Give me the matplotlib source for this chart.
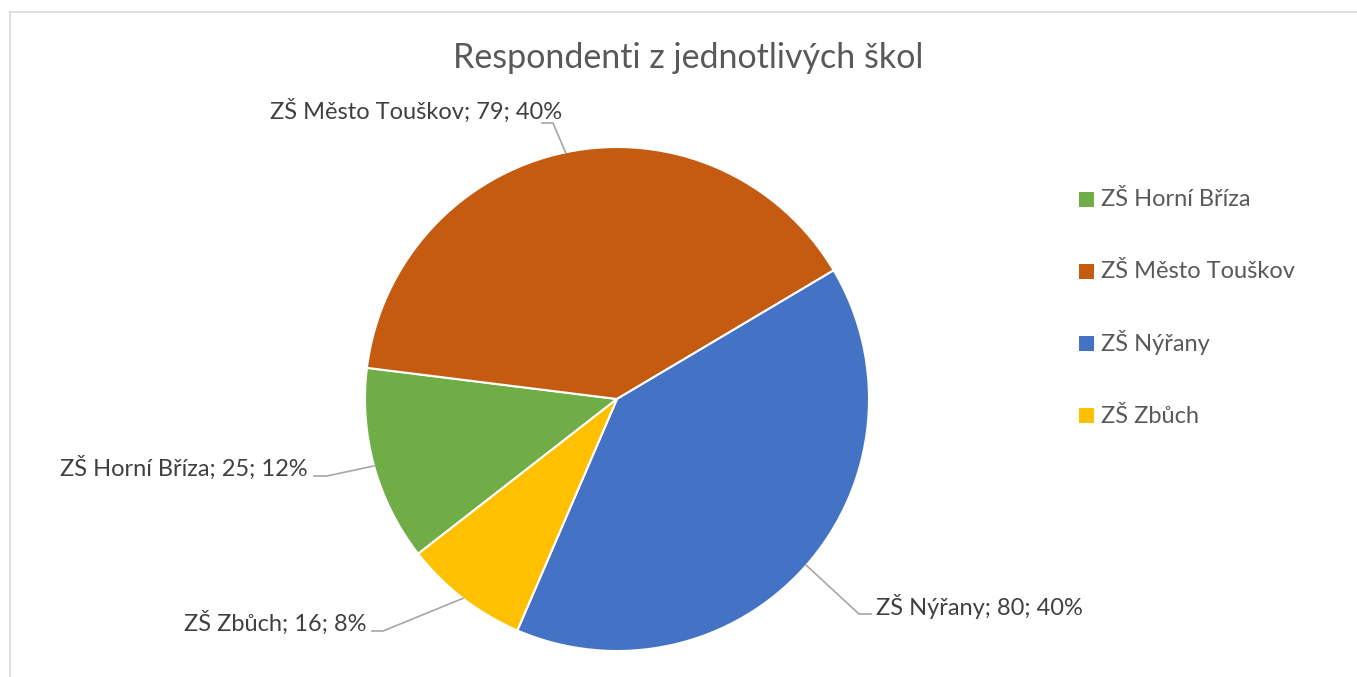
import numpy as np
import matplotlib
matplotlib.use('Agg')
import matplotlib.pyplot as plt
from matplotlib.patches import Rectangle

# data
schools = ['ZŠ Horní Bříza', 'ZŠ Město Touškov', 'ZŠ Nýřany', 'ZŠ Zbůch']
counts = [25, 79, 80, 16]
colors = ['#70AD47', '#C55A11', '#4472C4', '#FFC000']
title = 'Respondenti z jednotlivých škol'

W, H = 1357, 677
plt.rcParams['font.family'] = ['Lato', 'DejaVu Sans']

def fy(y):
    # pixel row from top -> data y
    return H - y

fig = plt.figure(figsize=(W / 100, H / 100), dpi=100)
ax = fig.add_axes([0, 0, 1, 1])

total = sum(counts)
wedges, _ = ax.pie(counts, colors=colors, startangle=90 - 232.1, counterclock=False,
                   center=(617, fy(399)), radius=252,
                   wedgeprops=dict(edgecolor='white', linewidth=1.5))

ax.set_xlim(0, W)
ax.set_ylim(0, H)
ax.set_aspect('equal')
ax.axis('off')

# chart border (top and left visible)
ax.plot([9.5, W], [fy(11.5), fy(11.5)], color='#D9D9D9', lw=1.2, clip_on=False)
ax.plot([9.5, 9.5], [fy(11.5), 0], color='#D9D9D9', lw=1.2, clip_on=False)

ax.text(688, fy(68), title, fontsize=24.5, fontweight='normal', color='#595959',
        ha='center', va='baseline')

# data labels: text left x, baseline y, elbow end, elbow start
label_layout = [
    (60, 476, (327, 476), (314, 476)),
    (270, 119, (553, 123), (542, 123)),
    (876, 615, (859, 614), (871, 614)),
    (184, 631, (383, 631), (372, 631)),
]

for w, name, n, (tx, ty, e1, e2) in zip(wedges, schools, counts, label_layout):
    mid = np.deg2rad((w.theta1 + w.theta2) / 2)
    cx, cy = w.center
    px = cx + w.r * np.cos(mid)
    py = cy + w.r * np.sin(mid)
    ax.plot([px, e1[0], e2[0]], [py, fy(e1[1]), fy(e2[1])], color='#A6A6A6', lw=1.2)
    pct = round(100 * n / total)
    ax.text(tx, fy(ty), f'{name}; {n}; {pct}%', fontsize=17, color='#404040',
            ha='left', va='baseline')

# legend
for i, (name, c) in enumerate(zip(schools, colors)):
    yc = 199 + i * 72.3
    ax.add_patch(Rectangle((1079, fy(yc + 7.5)), 15, 15, facecolor=c, edgecolor='none'))
    ax.text(1101, fy(yc + 7), name, fontsize=17, color='#595959', ha='left', va='baseline')

fig.savefig('out.png', dpi=100)
